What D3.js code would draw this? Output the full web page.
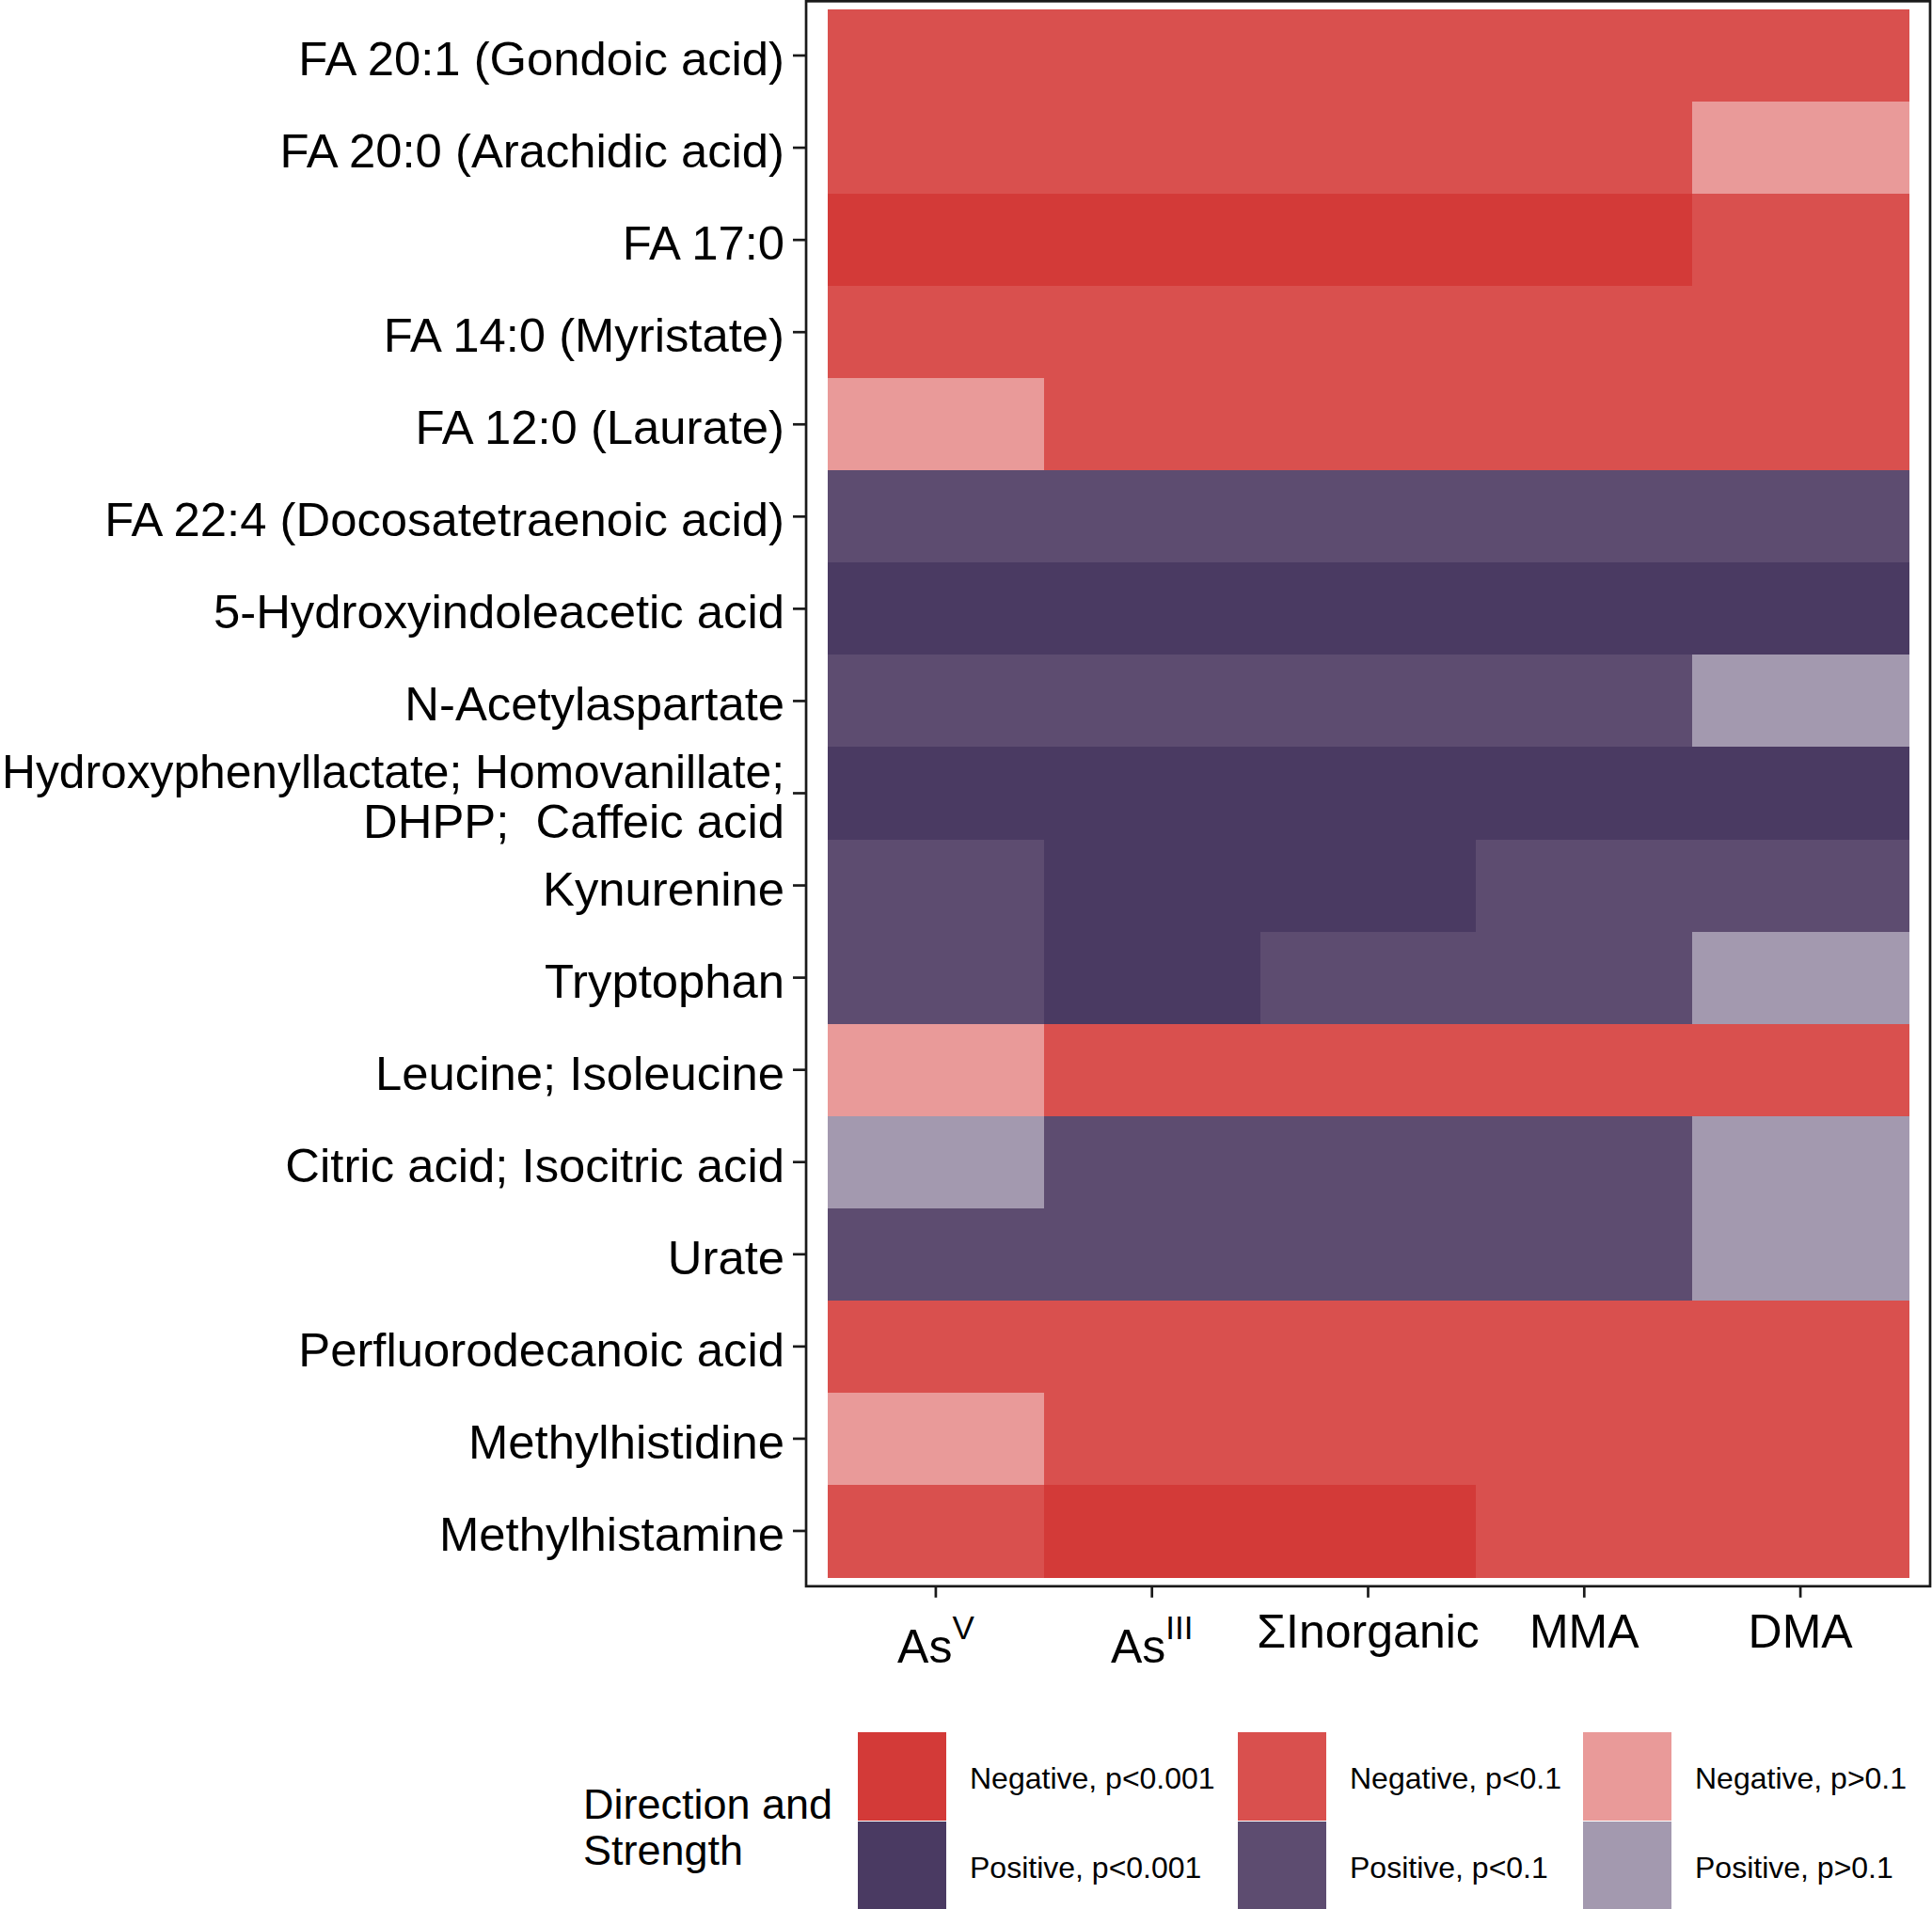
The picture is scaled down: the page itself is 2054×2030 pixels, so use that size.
<!DOCTYPE html>
<html>
<head>
<meta charset="utf-8">
<script src="https://cdn.jsdelivr.net/npm/d3@7"></script>
<style>
  html, body { margin: 0; padding: 0; background: #ffffff; }
  svg { display: block; }
  text { font-family: "Liberation Sans", Arial, sans-serif; fill: #000; }
</style>
</head>
<body>
<svg id="chart" width="2054" height="2030"></svg>
<script>
// ---------- data ----------
const columns = ["AsV", "AsIII", "Inorganic", "MMA", "DMA"];
const columnLabels = [
  { main: "As", sup: "V" },
  { main: "As", sup: "III" },
  { main: "\u03A3Inorganic", sup: null },
  { main: "MMA", sup: null },
  { main: "DMA", sup: null }
];
const metabolites = [
  "FA 20:1 (Gondoic acid)",
  "FA 20:0 (Arachidic acid)",
  "FA 17:0",
  "FA 14:0 (Myristate)",
  "FA 12:0 (Laurate)",
  "FA 22:4 (Docosatetraenoic acid)",
  "5-Hydroxyindoleacetic acid",
  "N-Acetylaspartate",
  "Hydroxyphenyllactate; Homovanillate;\nDHPP;  Caffeic acid",
  "Kynurenine",
  "Tryptophan",
  "Leucine; Isoleucine",
  "Citric acid; Isocitric acid",
  "Urate",
  "Perfluorodecanoic acid",
  "Methylhistidine",
  "Methylhistamine"
];
// category per cell (row = metabolite, column order as in `columns`)
const categories = [
  ["NL2", "NL2", "NL2", "NL2", "NL2"],
  ["NL2", "NL2", "NL2", "NL2", "NL3"],
  ["NL1", "NL1", "NL1", "NL1", "NL2"],
  ["NL2", "NL2", "NL2", "NL2", "NL2"],
  ["NL3", "NL2", "NL2", "NL2", "NL2"],
  ["PL2", "PL2", "PL2", "PL2", "PL2"],
  ["PL1", "PL1", "PL1", "PL1", "PL1"],
  ["PL2", "PL2", "PL2", "PL2", "PL3"],
  ["PL1", "PL1", "PL1", "PL1", "PL1"],
  ["PL2", "PL1", "PL1", "PL2", "PL2"],
  ["PL2", "PL1", "PL2", "PL2", "PL3"],
  ["NL3", "NL2", "NL2", "NL2", "NL2"],
  ["PL3", "PL2", "PL2", "PL2", "PL3"],
  ["PL2", "PL2", "PL2", "PL2", "PL3"],
  ["NL2", "NL2", "NL2", "NL2", "NL2"],
  ["NL3", "NL2", "NL2", "NL2", "NL2"],
  ["NL2", "NL1", "NL1", "NL2", "NL2"]
];
const legendKeys = ["NL1", "PL1", "NL2", "PL2", "NL3", "PL3"];
const legendLabels = ["Negative, p<0.001", "Positive, p<0.001", "Negative, p<0.1", "Positive, p<0.1", "Negative, p>0.1", "Positive, p>0.1"];
const legendTitle = ["Direction and", "Strength"];
const palette = ["#D33A38", "#4A3A62", "#D9504E", "#5D4C70", "#E99A99", "#A399AF"];

// ---------- layout ----------
const svg = d3.select("#chart");
const tileLeft = 880, tileRight = 2029, tileTop = 10, tileBottom = 1677;

const x = d3.scaleBand().domain(columns).range([tileLeft, tileRight]).padding(0);
const y = d3.scaleBand().domain(metabolites).range([tileTop, tileBottom]).padding(0);
const color = d3.scaleOrdinal().domain(legendKeys).range(palette);

const panelLeft = tileLeft - 0.1 * x.bandwidth();
const panelRight = tileRight + 0.1 * x.bandwidth();
const panelTop = tileTop - 0.1 * y.bandwidth();
const panelBottom = tileBottom + 0.1 * y.bandwidth();

// cells
const cells = [];
metabolites.forEach((m, i) => columns.forEach((c, j) => cells.push({ m, c, cat: categories[i][j] })));

svg.append("g").selectAll("rect")
  .data(cells)
  .join("rect")
  .attr("x", d => x(d.c))
  .attr("y", d => y(d.m))
  .attr("width", x.bandwidth() + 0.5)
  .attr("height", y.bandwidth() + 0.5)
  .attr("fill", d => color(d.cat))
  .attr("shape-rendering", "crispEdges");

// panel border
svg.append("rect")
  .attr("x", panelLeft)
  .attr("y", Math.max(panelTop, 1.3))
  .attr("width", panelRight - panelLeft)
  .attr("height", panelBottom - Math.max(panelTop, 1.3))
  .attr("fill", "none")
  .attr("stroke", "#1a1a1a")
  .attr("stroke-width", 2.7);

// y axis
const yAxisG = svg.append("g")
  .attr("transform", `translate(${panelLeft},0)`)
  .call(d3.axisLeft(y).tickSize(14).tickPadding(9).tickFormat(""));
yAxisG.select(".domain").remove();
yAxisG.selectAll(".tick line").attr("stroke", "#1a1a1a").attr("stroke-width", 2.7);
yAxisG.selectAll(".tick text").remove();
const labelRight = -23;
const maxLabelWidth = panelLeft + labelRight - 2;
yAxisG.selectAll(".tick").each(function (d) {
  const lines = d.split("\n");
  const t = d3.select(this).append("text")
    .attr("text-anchor", "end")
    .attr("x", labelRight)
    .style("font-size", "50.8px")
    .style("white-space", "pre")
    .attr("xml:space", "preserve");
  const lh = 53;
  const first = 21 - (lines.length - 1) * lh / 2;
  lines.forEach((ln, k) => {
    const ts = t.append("tspan").attr("x", labelRight).attr("y", first + k * lh).text(ln);
    const w = ts.node().getComputedTextLength();
    if (w > maxLabelWidth) {
      ts.attr("textLength", maxLabelWidth).attr("lengthAdjust", "spacingAndGlyphs");
    }
  });
});

// x axis
const xAxisG = svg.append("g")
  .attr("transform", `translate(0,${panelBottom})`)
  .call(d3.axisBottom(x).tickSize(12).tickPadding(8).tickFormat(""));
xAxisG.select(".domain").remove();
xAxisG.selectAll(".tick line").attr("stroke", "#1a1a1a").attr("stroke-width", 2.7);
xAxisG.selectAll(".tick text").remove();
xAxisG.selectAll(".tick").each(function (d, i) {
  const lab = columnLabels[i];
  const t = d3.select(this).append("text")
    .attr("text-anchor", "middle")
    .style("font-size", "50px");
  if (lab.sup) {
    t.attr("y", 1768 - panelBottom);
    t.append("tspan").text(lab.main);
    t.append("tspan").attr("dy", -25).style("font-size", "35px").text(lab.sup);
  } else {
    t.attr("y", 1752 - panelBottom).text(lab.main);
  }
});

// legend
const legend = svg.append("g");
const keySize = 94;
const keyX = [912, 1316, 1683];
const keyY = [1842, 1937];
const labelX = [1031, 1435, 1802];
legendKeys.forEach((k, i) => {
  const col = Math.floor(i / 2), row = i % 2;
  legend.append("rect")
    .attr("x", keyX[col])
    .attr("y", keyY[row])
    .attr("width", keySize)
    .attr("height", keySize)
    .attr("fill", color(k));
  legend.append("text")
    .attr("x", labelX[col])
    .attr("y", keyY[row] + keySize / 2 + 13)
    .style("font-size", "32px")
    .text(legendLabels[i]);
});
legendTitle.forEach((ln, k) => {
  legend.append("text")
    .attr("x", 620)
    .attr("y", 1934 + k * 49)
    .style("font-size", "45px")
    .text(ln);
});
</script>
</body>
</html>
